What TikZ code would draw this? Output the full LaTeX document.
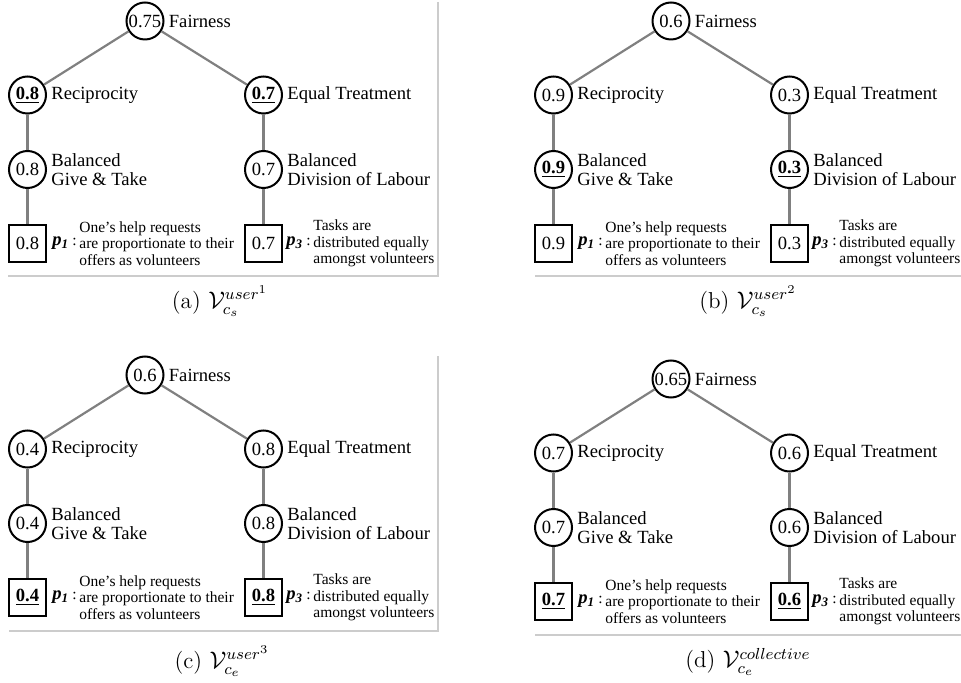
\documentclass[tikz,border=0pt]{standalone}
\usepackage{fontspec}
\usepackage{amsmath}
\usetikzlibrary{positioning}
\newfontfamily\timesfont[Ligatures=TeX]{Liberation Serif}

% bold, underlined value
\newcommand{\bval}[1]{\textbf{\underline{#1}}}

\tikzset{
    valnode/.style={circle, draw, line width=1pt, minimum size=18.5pt, inner sep=0.3pt,
        font=\timesfont\fontsize{9.3}{9.8}\selectfont},
    polnode/.style={rectangle, draw, line width=1pt, minimum size=18.5pt, inner sep=0pt,
        font=\timesfont\fontsize{9.3}{9.8}\selectfont},
    lbl/.style={inner sep=2pt, align=left, font=\timesfont\fontsize{9.3}{9.8}\selectfont},
    plbl/.style={inner sep=0pt, font=\timesfont\fontsize{9.3}{9.8}\selectfont},
    ptxt/.style={inner sep=0pt, align=left, font=\timesfont\fontsize{7.75}{8.3}\selectfont},
    edge/.style={draw=black!50, line width=1.1pt},
    frame/.style={draw=black!20, line width=0.6pt},
    caption/.style={font=\fontsize{11.5}{13}\selectfont}
}

% one value tree: shift, prefix, then Fairness, Reciprocity, Equal Treatment,
% Give & Take, Division of Labour, p1, p3
\newcommand{\valuetree}[9]{%
  \begin{scope}[shift={#1}]
    % value nodes
    \node[valnode] (#2F) at (145,21) {#3};
    \node[valnode] (#2R) at (27.5,95) {#4};
    \node[valnode] (#2E) at (263.5,95) {#5};
    \node[valnode] (#2G) at (27.5,169.5) {#6};
    \node[valnode] (#2D) at (263.5,169.5) {#7};
    % norm nodes
    \node[polnode] (#2S) at (27.5,243.5) {#8};
    \node[polnode] (#2T) at (263.5,243.5) {#9};

    % labels
    \node[lbl, right=0pt of #2F] {Fairness};
    \node[lbl, right=0pt of #2R] {Reciprocity};
    \node[lbl, right=0pt of #2E] {Equal Treatment};
    \node[lbl, right=0pt of #2G] {Balanced\\Give \& Take};
    \node[lbl, right=0pt of #2D] {Balanced\\Division of Labour};

    \node[plbl, right=2.5pt of #2S] (#2P) {{\bfseries\itshape p\textsubscript{1}}\,{\fontsize{7.75}{8}\selectfont:}};
    \node[ptxt, right=1pt of #2P] {One’s help requests\\are proportionate to their\\offers as volunteers};
    \node[plbl, right=1.5pt of #2T] (#2Q) {{\bfseries\itshape p\textsubscript{3}}\,{\fontsize{7.75}{8}\selectfont:}};
    \node[ptxt, right=1pt of #2Q] {Tasks are\\distributed equally\\amongst volunteers};

    % tree edges
    \draw[edge] (#2F) -- (#2R);
    \draw[edge] (#2F) -- (#2E);
    \draw[edge] (#2R) -- (#2G);
    \draw[edge] (#2E) -- (#2D);
    \draw[edge] (#2G) -- (#2S);
    \draw[edge] (#2D) -- (#2T);
  \end{scope}}

\begin{document}
\begin{tikzpicture}[x=0.5pt, y=-0.5pt]
    \useasboundingbox (0,0) rectangle (961,683);

    % the four trees
    \valuetree{(0,0)}{a}{0.75}{\bval{0.8}}{\bval{0.7}}{0.8}{0.7}{0.8}{0.7}
    \valuetree{(526,0)}{b}{0.6}{0.9}{0.3}{\bval{0.9}}{\bval{0.3}}{0.9}{0.3}
    \valuetree{(0,354)}{c}{0.6}{0.4}{0.8}{0.4}{0.8}{\bval{0.4}}{\bval{0.8}}
    \valuetree{(526,358)}{d}{0.65}{0.7}{0.6}{0.7}{0.6}{\bval{0.7}}{\bval{0.6}}

    % frame lines
    \draw[frame] (438,2) -- (438,276) -- (8,276);
    \draw[frame] (535,276) -- (961,276);
    \draw[frame] (438,356) -- (438,631) -- (9,631);
    \draw[frame] (535,635) -- (961,635);

    % captions
    \node[caption] (capa) at (220,301) {(a) $\mathcal{V}_{c_s}^{user^1}$};
    \node[caption] (capb) at (748,301) {(b) $\mathcal{V}_{c_s}^{user^2}$};
    \node[caption] (capc) at (222,661) {(c) $\mathcal{V}_{c_e}^{user^3}$};
    \node[caption] (capd) at (748,662) {(d) $\mathcal{V}_{c_e}^{collective}$};
\end{tikzpicture}
\end{document}
